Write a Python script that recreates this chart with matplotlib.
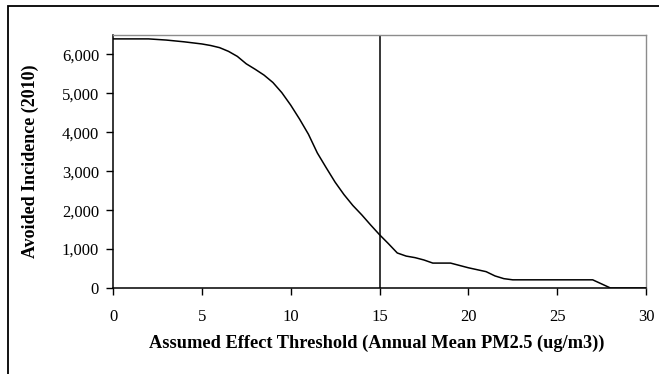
import matplotlib
matplotlib.use("Agg")
import matplotlib.pyplot as plt
from matplotlib.patches import Rectangle
from matplotlib.ticker import FuncFormatter

threshold = [0, 1, 2, 3, 4, 5, 5.5, 6, 6.5, 7, 7.5, 8, 8.5, 9, 9.5, 10, 10.5,
             11, 11.5, 12, 12.5, 13, 13.5, 14, 14.5, 15, 15.5, 16, 16.5, 17,
             17.5, 18, 19, 19.5, 20, 20.5, 21, 21.5, 22, 22.5, 27, 28, 30]
avoided = [6400, 6400, 6400, 6370, 6325, 6270, 6230, 6175, 6080, 5950, 5760,
           5620, 5470, 5280, 5020, 4700, 4340, 3950, 3470, 3090, 2720, 2400,
           2120, 1880, 1620, 1370, 1140, 900, 820, 780, 720, 640, 640, 580,
           520, 470, 420, 310, 240, 210, 210, 0, 0]
standard_line = 15
x_ticks = [0, 5, 10, 15, 20, 25, 30]
y_ticks = [0, 1000, 2000, 3000, 4000, 5000, 6000]
x_label = "Assumed Effect Threshold (Annual Mean PM2.5 (ug/m3))"
y_label = "Avoided Incidence (2010)"

plt.rcParams['font.family'] = ['Liberation Serif', 'DejaVu Serif']

fig = plt.figure(figsize=(6.59, 3.74), dpi=100)
ax = fig.add_axes([113/659, 1-288/374, (646-113)/659, (288-35)/374])

ax.plot(threshold, avoided, color='black', lw=1.1)
ax.axvline(standard_line, color='black', lw=1.1)

ax.set_xlim(0, 30)
ax.set_ylim(0, 6500)
ax.set_xticks(x_ticks)
ax.set_yticks(y_ticks)
ax.yaxis.set_major_formatter(FuncFormatter(lambda v, p: f"{int(v):,}"))
ax.tick_params(direction='out', length=5, width=1, labelsize=12, colors='black')
ax.tick_params(axis='x', pad=10)
ax.tick_params(axis='y', pad=5)

for s in ['left', 'bottom']:
    ax.spines[s].set_color('black')
    ax.spines[s].set_linewidth(1.1)
for s in ['top', 'right']:
    ax.spines[s].set_color('#8c8c8c')
    ax.spines[s].set_linewidth(1.0)

fig.text(377/659, 1-343/374, x_label, ha='center', va='center',
         fontsize=13.2, fontweight='bold')
fig.text(30/659, 1-161/374, y_label, ha='center', va='center',
         fontsize=13, fontweight='bold', rotation=90)

frame = Rectangle((8/659, -0.1), 1.2, 1 - 6/374 + 0.1, transform=fig.transFigure,
                  fill=False, edgecolor='black', lw=1.3, clip_on=False)
fig.patches.append(frame)

fig.savefig("out.png", dpi=100)
